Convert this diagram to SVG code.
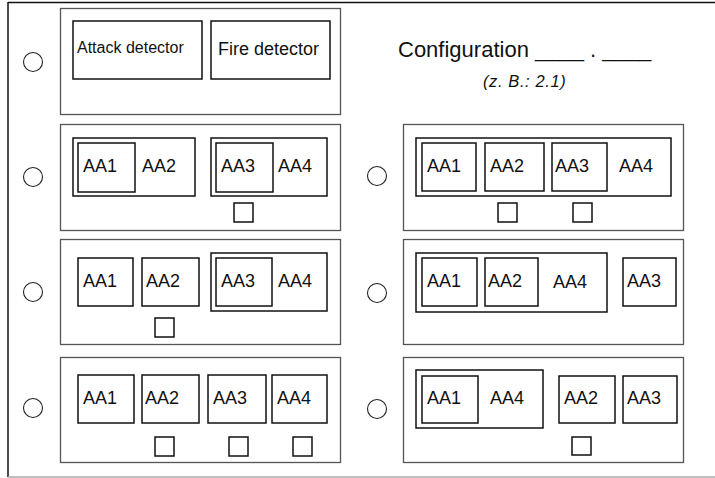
<svg xmlns="http://www.w3.org/2000/svg" width="715" height="478" viewBox="0 0 715 478">
<style>
.panel{fill:#fff;stroke:#555;stroke-width:1.3}
.grp{fill:none;stroke:#111;stroke-width:1.5}
.box{fill:#fff;stroke:#111;stroke-width:1.5}
.chk{fill:#fff;stroke:#111;stroke-width:1.5}
.hole{fill:#fff;stroke:#222;stroke-width:1.1}
text{font-family:"Liberation Sans",Arial,sans-serif;fill:#111}
.aa{font-size:18px}
</style>
<rect x="0" y="0" width="715" height="478" fill="#fff"/>
<g id="frame">
<line x1="8" y1="2.5" x2="715" y2="2.5" stroke="#111" stroke-width="1.5"/>
<line x1="8" y1="2" x2="8" y2="477" stroke="#111" stroke-width="1.5"/>
<line x1="8" y1="477" x2="715" y2="477" stroke="#aaa" stroke-width="1.5"/>
</g>
<g id="title">
<text x="398" y="57" font-size="22">Configuration ____ . ____</text>
<text x="483" y="87" font-size="16.5" font-style="italic" letter-spacing="0.6">(z. B.: 2.1)</text>
</g>
<g id="holes">
<circle class="hole" cx="33" cy="62" r="9.5"/>
<circle class="hole" cx="33" cy="177" r="9.5"/>
<circle class="hole" cx="33" cy="292" r="9.5"/>
<circle class="hole" cx="33" cy="408" r="9.5"/>
<circle class="hole" cx="377" cy="176" r="9.5"/>
<circle class="hole" cx="377" cy="293" r="9.5"/>
<circle class="hole" cx="377" cy="409" r="9.5"/>
</g>
<g id="panel-detectors">
<rect class="panel" x="60.5" y="8.5" width="280" height="106"/>
<rect class="box" x="73" y="21" width="129" height="58"/>
<rect class="box" x="211" y="21" width="119" height="58"/>
<text x="77" y="53" font-size="16">Attack detector</text>
<text x="218" y="55" font-size="18">Fire detector</text>
</g>
<g id="panel-L1">
<rect class="panel" x="60.5" y="124.5" width="280" height="106"/>
<rect class="grp" x="73" y="138" width="122" height="58"/>
<rect class="box" x="78" y="143" width="57" height="49"/>
<rect class="grp" x="211" y="138" width="116" height="58"/>
<rect class="box" x="216" y="143" width="57" height="49"/>
<rect class="chk" x="234" y="203" width="19" height="19"/>
<text class="aa" x="83" y="172">AA1</text>
<text class="aa" x="142" y="172">AA2</text>
<text class="aa" x="221" y="172">AA3</text>
<text class="aa" x="278" y="172">AA4</text>
</g>
<g id="panel-R1">
<rect class="panel" x="403.5" y="124.5" width="280" height="106"/>
<rect class="grp" x="416" y="138" width="255" height="58"/>
<rect class="box" x="422" y="143" width="54" height="48"/>
<rect class="box" x="485" y="143" width="59" height="48"/>
<rect class="box" x="552" y="143" width="55" height="48"/>
<rect class="chk" x="498" y="203" width="19" height="19"/>
<rect class="chk" x="573" y="203" width="19" height="19"/>
<text class="aa" x="427" y="172">AA1</text>
<text class="aa" x="490" y="172">AA2</text>
<text class="aa" x="555" y="172">AA3</text>
<text class="aa" x="619" y="172">AA4</text>
</g>
<g id="panel-L2">
<rect class="panel" x="60.5" y="239.5" width="280" height="105"/>
<rect class="box" x="78" y="258" width="55" height="48"/>
<rect class="box" x="142" y="258" width="57" height="48"/>
<rect class="grp" x="211" y="253" width="116" height="58"/>
<rect class="box" x="216" y="258" width="56" height="48"/>
<rect class="chk" x="155" y="318" width="19" height="19"/>
<text class="aa" x="83" y="287">AA1</text>
<text class="aa" x="146" y="287">AA2</text>
<text class="aa" x="221" y="287">AA3</text>
<text class="aa" x="278" y="287">AA4</text>
</g>
<g id="panel-R2">
<rect class="panel" x="403.5" y="239.5" width="280" height="105"/>
<rect class="grp" x="416" y="253" width="191" height="59"/>
<rect class="box" x="422" y="258" width="55" height="48"/>
<rect class="box" x="485" y="258" width="53" height="48"/>
<rect class="box" x="623" y="258" width="53" height="48"/>
<text class="aa" x="427" y="287">AA1</text>
<text class="aa" x="488" y="287">AA2</text>
<text class="aa" x="553" y="288">AA4</text>
<text class="aa" x="627" y="287">AA3</text>
</g>
<g id="panel-L3">
<rect class="panel" x="60.5" y="357.5" width="280" height="105"/>
<rect class="box" x="78" y="375" width="56" height="48"/>
<rect class="box" x="142" y="375" width="57" height="48"/>
<rect class="box" x="208" y="375" width="58" height="48"/>
<rect class="box" x="272" y="375" width="55" height="48"/>
<rect class="chk" x="155" y="437" width="19" height="19"/>
<rect class="chk" x="229" y="437" width="19" height="19"/>
<rect class="chk" x="293" y="437" width="19" height="19"/>
<text class="aa" x="83" y="404">AA1</text>
<text class="aa" x="145" y="404">AA2</text>
<text class="aa" x="213" y="404">AA3</text>
<text class="aa" x="277" y="404">AA4</text>
</g>
<g id="panel-R3">
<rect class="panel" x="403.5" y="357.5" width="280" height="105"/>
<rect class="grp" x="416" y="370" width="127" height="58"/>
<rect class="box" x="422" y="376" width="56" height="47"/>
<rect class="box" x="559" y="376" width="56" height="47"/>
<rect class="box" x="623" y="376" width="54" height="47"/>
<rect class="chk" x="572" y="437" width="19" height="18"/>
<text class="aa" x="427" y="404">AA1</text>
<text class="aa" x="490" y="404">AA4</text>
<text class="aa" x="564" y="404">AA2</text>
<text class="aa" x="627" y="404">AA3</text>
</g>
</svg>
